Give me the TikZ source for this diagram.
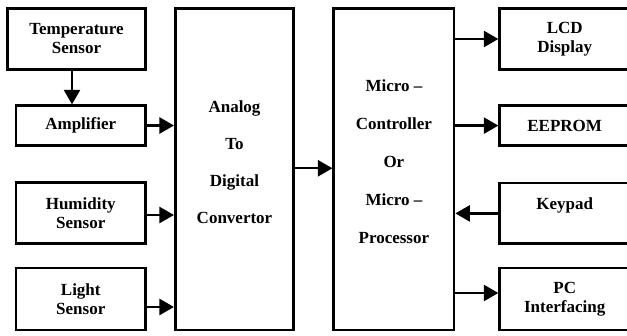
\documentclass[tikz,border=0pt]{standalone}
\usepackage{fontspec}
\setmainfont{Liberation Serif}
\usepackage{tikz}
\usetikzlibrary{arrows.meta}

\begin{document}
\begin{tikzpicture}[x=1pt,y=-1pt,
	blk/.style={draw,line width=2.7pt,inner sep=0pt,align=center,font=\bfseries\fontsize{17}{19}\selectfont},
	blktxt/.style={inner sep=0pt,align=center,font=\bfseries\fontsize{17}{19}\selectfont},
	arr/.style={line width=2.4pt,-{Triangle[length=14.5pt,width=16pt]}}]
	\useasboundingbox (0,0) rectangle (627,335);
	\node[blk,minimum width=138pt,minimum height=61pt] (temp) at (76.5,39) {Temperature\\Sensor};
	\node[blk,minimum width=129.5pt,minimum height=39.6pt] (amp) at (80.75,125.5) {Amplifier};
	\node[blk,minimum width=129.5pt,minimum height=61.5pt] (hum) at (80.75,213) {Humidity\\Sensor};
	\node[blk,minimum width=129.5pt,minimum height=62pt] (light) at (80.75,299) {Light\\Sensor};
	\node[blk,minimum width=118.4pt,minimum height=321.5pt] (adc) at (234.5,169.25) {};
	\node[blktxt,yshift=7pt] (adctext) at (adc.center) {Analog\\[18pt]To\\[18pt]Digital\\[18pt]Convertor};
	\node[blk,minimum width=120.2pt,minimum height=321.5pt] (mcu) at (393.9,169.25) {};
	\node[blktxt,yshift=8pt] (mcutext) at (mcu.center) {Micro --\\[19pt]Controller\\[19pt]Or\\[19pt]Micro --\\[19pt]Processor};
	\node[blk,minimum width=130pt,minimum height=61pt] (lcd) at (564.7,39) {LCD\\Display};
	\node[blk,minimum width=130pt,minimum height=39.8pt] (eeprom) at (564.7,125.6) {EEPROM};
	\node[blk,minimum width=130pt,minimum height=60.8pt] (keypad) at (564.7,213.4) {Keypad\\\mbox{}};
	\node[blk,minimum width=130pt,minimum height=62pt] (pc) at (564.7,299) {PC\\Interfacing};
	\draw[arr] ([xshift=-4.5pt]temp.south) -- ([xshift=-4.5pt]temp.south |- amp.north);
	\draw[arr] (amp.east) -- (amp.east -| adc.west);
	\draw[arr] ([yshift=-2pt]hum.east) -- ([yshift=-2pt]hum.east -| adc.west);
	\draw[arr] ([yshift=-8pt]light.east) -- ([yshift=-8pt]light.east -| adc.west);
	\draw[arr] ([yshift=1pt]adc.east) -- ([yshift=1pt]adc.east -| mcu.west);
	\draw[arr] (lcd.west -| mcu.east) -- (lcd.west);
	\draw[arr] (eeprom.west -| mcu.east) -- (eeprom.west);
	\draw[arr] (keypad.west) -- (keypad.west -| mcu.east);
	\draw[arr] ([yshift=6pt]pc.west -| mcu.east) -- ([yshift=6pt]pc.west);
\end{tikzpicture}
\end{document}
